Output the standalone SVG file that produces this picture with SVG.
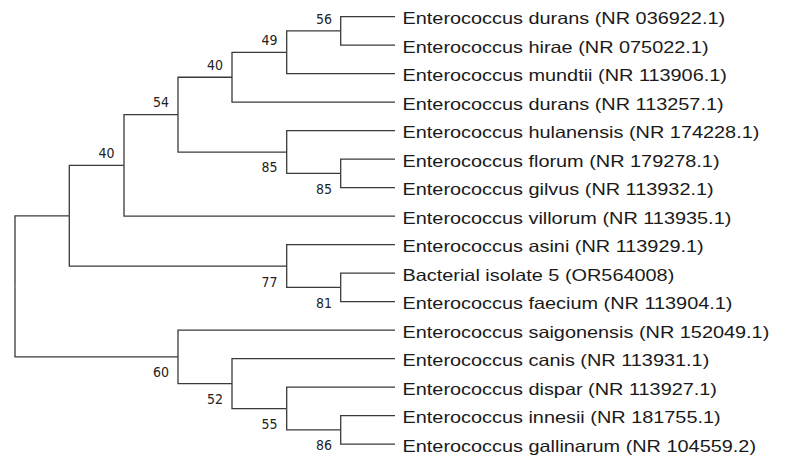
<svg xmlns="http://www.w3.org/2000/svg" width="787" height="470" viewBox="0 0 787 470">
<style>
.br{fill:none;stroke:#3a3a3a;stroke-width:1.3;stroke-linejoin:miter}
.lf{font-family:"Liberation Sans",Arial,sans-serif;font-size:16.3px;fill:#1a1a1a}
.bs{font-family:"DejaVu Sans",Verdana,sans-serif;font-size:14.5px;fill:#222}
</style>
<rect width="787" height="470" fill="#fff"/>
<g id="connectors" class="br">
<path d="M15,286.4 V215.8 H69.3"/>
<path d="M15,286.4 V356.9 H178"/>
<path d="M69.3,215.8 V165.45 H124"/>
<path d="M69.3,215.8 V266.1 H286.7"/>
<path d="M124,165.45 V114.7 H178"/>
<path d="M124,165.45 V216.2 H395"/>
<path d="M178,114.7 V77.25 H232"/>
<path d="M178,114.7 V152.1 H286.7"/>
<path d="M232,77.25 V52.3 H286.7"/>
<path d="M232,77.25 V102.2 H395"/>
<path d="M286.7,52.3 V30.95 H340.7"/>
<path d="M286.7,52.3 V73.7 H395"/>
<path d="M340.7,30.95 V16.7 H395"/>
<path d="M340.7,30.95 V45.2 H395"/>
<path d="M286.7,152.1 V130.7 H395"/>
<path d="M286.7,152.1 V173.45 H340.7"/>
<path d="M340.7,173.45 V159.2 H395"/>
<path d="M340.7,173.45 V187.7 H395"/>
<path d="M286.7,266.1 V244.7 H395"/>
<path d="M286.7,266.1 V287.45 H340.7"/>
<path d="M340.7,287.45 V273.2 H395"/>
<path d="M340.7,287.45 V301.7 H395"/>
<path d="M178,356.9 V330.2 H395"/>
<path d="M178,356.9 V383.65 H232"/>
<path d="M232,383.65 V358.7 H395"/>
<path d="M232,383.65 V408.6 H286.7"/>
<path d="M286.7,408.6 V387.2 H395"/>
<path d="M286.7,408.6 V429.95 H340.7"/>
<path d="M340.7,429.95 V415.7 H395"/>
<path d="M340.7,429.95 V444.2 H395"/>
</g>
<g id="n-root"></g>
<g id="n-F"><text class="bs" x="316" y="23.5" textLength="16" lengthAdjust="spacingAndGlyphs">56</text></g>
<g id="n-E"><text class="bs" x="261.5" y="44.8" textLength="16" lengthAdjust="spacingAndGlyphs">49</text></g>
<g id="n-D"><text class="bs" x="207" y="69.8" textLength="16" lengthAdjust="spacingAndGlyphs">40</text></g>
<g id="n-C"><text class="bs" x="153" y="107.2" textLength="16" lengthAdjust="spacingAndGlyphs">54</text></g>
<g id="n-B"><text class="bs" x="98.5" y="158" textLength="16" lengthAdjust="spacingAndGlyphs">40</text></g>
<g id="n-G"><text class="bs" x="261.5" y="172.3" textLength="16" lengthAdjust="spacingAndGlyphs">85</text></g>
<g id="n-H"><text class="bs" x="316" y="193.6" textLength="16" lengthAdjust="spacingAndGlyphs">85</text></g>
<g id="n-I"><text class="bs" x="261.5" y="286.6" textLength="16" lengthAdjust="spacingAndGlyphs">77</text></g>
<g id="n-J"><text class="bs" x="316" y="307.7" textLength="16" lengthAdjust="spacingAndGlyphs">81</text></g>
<g id="n-K"><text class="bs" x="153" y="376.7" textLength="16" lengthAdjust="spacingAndGlyphs">60</text></g>
<g id="n-L"><text class="bs" x="207" y="404" textLength="16" lengthAdjust="spacingAndGlyphs">52</text></g>
<g id="n-M"><text class="bs" x="261.5" y="428.8" textLength="16" lengthAdjust="spacingAndGlyphs">55</text></g>
<g id="n-N"><text class="bs" x="316" y="450" textLength="16" lengthAdjust="spacingAndGlyphs">86</text></g>
<g id="leaf1"><text class="lf" transform="translate(402.5,24) scale(1.22,1)">Enterococcus durans (NR 036922.1)</text></g>
<g id="leaf2"><text class="lf" transform="translate(402.5,52.5) scale(1.22,1)">Enterococcus hirae (NR 075022.1)</text></g>
<g id="leaf3"><text class="lf" transform="translate(402.5,81) scale(1.22,1)">Enterococcus mundtii (NR 113906.1)</text></g>
<g id="leaf4"><text class="lf" transform="translate(402.5,109.5) scale(1.22,1)">Enterococcus durans (NR 113257.1)</text></g>
<g id="leaf5"><text class="lf" transform="translate(402.5,138) scale(1.22,1)">Enterococcus hulanensis (NR 174228.1)</text></g>
<g id="leaf6"><text class="lf" transform="translate(402.5,166.5) scale(1.22,1)">Enterococcus florum (NR 179278.1)</text></g>
<g id="leaf7"><text class="lf" transform="translate(402.5,195) scale(1.22,1)">Enterococcus gilvus (NR 113932.1)</text></g>
<g id="leaf8"><text class="lf" transform="translate(402.5,223.5) scale(1.22,1)">Enterococcus villorum (NR 113935.1)</text></g>
<g id="leaf9"><text class="lf" transform="translate(402.5,252) scale(1.22,1)">Enterococcus asini (NR 113929.1)</text></g>
<g id="leaf10"><text class="lf" transform="translate(402.5,280.5) scale(1.22,1)">Bacterial isolate 5 (OR564008)</text></g>
<g id="leaf11"><text class="lf" transform="translate(402.5,309) scale(1.22,1)">Enterococcus faecium (NR 113904.1)</text></g>
<g id="leaf12"><text class="lf" transform="translate(402.5,337.5) scale(1.22,1)">Enterococcus saigonensis (NR 152049.1)</text></g>
<g id="leaf13"><text class="lf" transform="translate(402.5,366) scale(1.22,1)">Enterococcus canis (NR 113931.1)</text></g>
<g id="leaf14"><text class="lf" transform="translate(402.5,394.5) scale(1.22,1)">Enterococcus dispar (NR 113927.1)</text></g>
<g id="leaf15"><text class="lf" transform="translate(402.5,423) scale(1.22,1)">Enterococcus innesii (NR 181755.1)</text></g>
<g id="leaf16"><text class="lf" transform="translate(402.5,451.5) scale(1.22,1)">Enterococcus gallinarum (NR 104559.2)</text></g>
</svg>
